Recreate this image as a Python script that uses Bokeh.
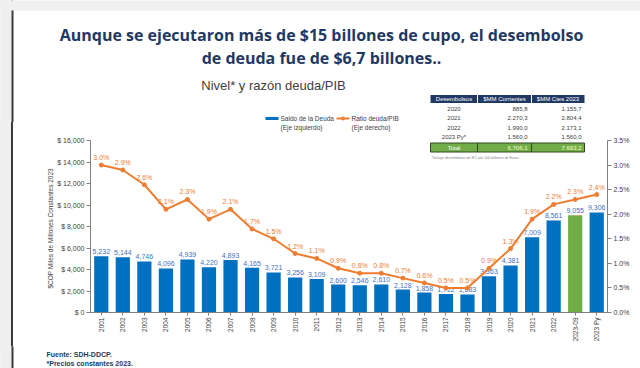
import math
from bokeh.plotting import figure
from bokeh.layouts import column, row
from bokeh.models import (ColumnDataSource, FactorRange, Range1d, LinearAxis,
                          FixedTicker, PrintfTickFormatter, Title, Div)
from bokeh.embed import file_html
from bokeh.resources import INLINE
from bokeh.core.properties import value

# ---------------- data ----------------
years = ["2001", "2002", "2003", "2004", "2005", "2006", "2007", "2008", "2009",
         "2010", "2011", "2012", "2013", "2014", "2015", "2016", "2017", "2018",
         "2019", "2020", "2021", "2022", "2023-09", "2023 Py"]
debt = [5232, 5144, 4746, 4096, 4939, 4220, 4893, 4165, 3721, 3256, 3109, 2600,
        2546, 2610, 2128, 1858, 1722, 1683, 3363, 4381, 7009, 8561, 9055, 9306]
ratio = [3.0, 2.9, 2.6, 2.1, 2.3, 1.9, 2.1, 1.7, 1.5, 1.2, 1.1, 0.9, 0.8, 0.8,
         0.7, 0.6, 0.5, 0.5, 0.9, 1.3, 1.9, 2.2, 2.3, 2.4]
highlight_year = "2023-09"

left_ticks = [0, 2000, 4000, 6000, 8000, 10000, 12000, 14000, 16000]
right_ticks = [0.0, 0.5, 1.0, 1.5, 2.0, 2.5, 3.0, 3.5]

table_header = ["Desembolsos", "$MM Corrientes", "$MM Ctes 2023"]
table_years = ["2020", "2021", "2022", "2023 Py*"]
table_corr = ["885,8", "2.270,3", "1.990,0", "1.560,0"]
table_ctes = ["1.155,7", "2.804,4", "2.173,1", "1.560,0"]
table_total = ["Total", "6.706,1", "7.693,2"]

title1 = "Aunque se ejecutaron más de $15 billones de cupo, el desembolso"
title2 = "de deuda fue de $6,7 billones.."
subtitle = "Nivel* y razón deuda/PIB"
ylabel = "$COP Miles de Millones Constantes 2023"
legend_items = ["Saldo de la Deuda", "(Eje izquierdo)", "Ratio deuda/PIB", "(Eje derecho)"]
footer1 = "Fuente: SDH-DDCP."
footer2 = "*Precios constantes 2023."
table_note = "*Incluye desembolsos de IFC por 100 millones de Euros"

# ---------------- styles / layout ----------------
BLUE = "#0070C0"
GREEN = "#70AD47"
ORANGE = "#ED7D31"
NAVY = "#1F3864"
LBL_BLUE = "#4472C4"
GREY_TXT = "#404040"
AXIS = "#808080"
FONT = "Liberation Sans"
BORDER = "#3a3a3a"
SURROUND = "#efefef"

W, H = 640, 368
SPLIT_Y = 122      # top band / chart band boundary (page px)
FOOT_Y = 346       # chart band / footer band boundary
EDGE_W = 11        # grey surround width, then 2px border line
FL, FR, FB = 90, 607, 312   # main frame edges (page px); top = SPLIT_Y
LEFT_MAX = 16000
RIGHT_MAX = 3.5
PX_AXIS = 172.0


def X(px):
    return (px - FL) / ((FR - FL) / len(years))


def Y(py):
    return (FB - py) * LEFT_MAX / PX_AXIS


def blank(width, height, x0, y0):
    f = figure(width=width, height=height, output_backend="svg", toolbar_location=None,
               x_range=Range1d(x0, x0 + width), y_range=Range1d(y0 + height, y0),
               x_axis_type=None, y_axis_type=None, min_border=0)
    f.outline_line_color = None
    f.grid.visible = False
    f.background_fill_color = "white"
    f.border_fill_color = "white"
    return f


def txt(f, xs, ys, texts, size, color, align="left", baseline="middle",
        font=FONT, style="normal", angle=0.0):
    f.text(x=xs, y=ys, text=texts, text_align=align, text_baseline=baseline,
           text_font=value(font), text_font_size=size, text_font_style=style,
           text_color=color, angle=angle)


def edge(f, y0, y1, top_band=False):
    if top_band:
        f.quad(left=[-5], right=[W + 5], top=[y0 - 5], bottom=[10],
               fill_color=SURROUND, line_color=None)
    f.quad(left=[-5], right=[EDGE_W], top=[y0 - 5], bottom=[y1 + 5],
           fill_color=SURROUND, line_color=None)
    f.segment(x0=[EDGE_W + 1], y0=[10 if top_band else y0 - 5], x1=[EDGE_W + 1],
              y1=[y1 + 5], line_color=BORDER, line_width=2)


# ---------------- top band ----------------
T = blank(W, SPLIT_Y, 0, 0)
edge(T, 0, SPLIT_Y, top_band=True)
txt(T, [321], [34], [title1], "16px", NAVY, "center", "alphabetic", "Open Sans", "bold")
txt(T, [321], [57], [title2], "16px", NAVY, "center", "alphabetic", "Open Sans", "bold")
txt(T, [273], [85], [subtitle], "13px", GREY_TXT, "center", "alphabetic")
# legend, first line
T.segment(x0=[265], y0=[118], x1=[278], y1=[118], line_color=BLUE, line_width=3)
T.segment(x0=[336], y0=[118], x1=[349], y1=[118], line_color=ORANGE, line_width=2)
T.scatter(x=[342.5], y=[118], size=3, fill_color=ORANGE, line_color=ORANGE)
txt(T, [280, 351], [118, 118], [legend_items[0], legend_items[2]], "6.5px", GREY_TXT)
# table header + first rows
cx = [430, 477, 531, 584]
T.quad(left=[cx[0]], right=[cx[3]], top=[94.5], bottom=[102.5], fill_color=NAVY, line_color=None)
T.segment(x0=[cx[1], cx[2]], y0=[94.5, 94.5], x1=[cx[1], cx[2]], y1=[102.5, 102.5],
          line_color="white", line_width=1)
txt(T, [(cx[0] + cx[1]) / 2, (cx[1] + cx[2]) / 2, (cx[2] + cx[3]) / 2], [98.7] * 3,
    table_header, "6px", "white", "center")
row_y = [108, 117.6, 127.2, 136.8]
txt(T, [(cx[0] + cx[1]) / 2] * 2, row_y[:2], table_years[:2], "6px", GREY_TXT, "center")
txt(T, [cx[2] - 4] * 2, row_y[:2], table_corr[:2], "6px", GREY_TXT, "right")
txt(T, [cx[3] - 3] * 2, row_y[:2], table_ctes[:2], "6px", GREY_TXT, "right")

# ---------------- main chart ----------------
CH = FOOT_Y - SPLIT_Y
MX0 = EDGE_W + 2
src = ColumnDataSource(dict(
    year=years, debt=debt, ratio=ratio,
    debt_lbl=[f"{v:,}" for v in debt],
    ratio_lbl=[f"{v:.1f}%" for v in ratio],
    color=[GREEN if y == highlight_year else BLUE for y in years],
))

ymax = (FB - SPLIT_Y) * LEFT_MAX / PX_AXIS
pmax = (FB - SPLIT_Y) * RIGHT_MAX / PX_AXIS

M = figure(width=W - MX0, height=CH, output_backend="svg", toolbar_location=None,
           x_range=FactorRange(factors=years, range_padding=0, factor_padding=0),
           y_range=Range1d(0, ymax),
           min_border_left=FL - MX0, min_border_right=W - FR,
           min_border_top=0, min_border_bottom=FOOT_Y - FB)
M.extra_y_ranges = {"pct": Range1d(0, pmax)}
M.outline_line_color = None
M.xgrid.visible = False
M.ygrid.visible = False
M.background_fill_color = "white"
M.border_fill_color = None

M.vbar(x="year", top="debt", width=0.66, fill_color="color", line_color=None, source=src)
M.text(x="year", y="debt", text="debt_lbl", source=src, text_align="center",
       text_baseline="bottom", y_offset=-2, text_font=value(FONT),
       text_font_size="7px", text_color=LBL_BLUE)

M.line(x="year", y="ratio", y_range_name="pct", source=src, line_color=ORANGE, line_width=2)
M.scatter(x="year", y="ratio", y_range_name="pct", source=src, size=4,
          fill_color=ORANGE, line_color=ORANGE)
M.text(x="year", y="ratio", text="ratio_lbl", y_range_name="pct", source=src,
       text_align="center", text_baseline="bottom", y_offset=-4,
       text_font=value(FONT), text_font_size="7px", text_color=ORANGE)


def style_axis(ax):
    ax.axis_line_color = AXIS
    ax.major_tick_line_color = AXIS
    ax.minor_tick_line_color = None
    ax.major_tick_in = 0
    ax.major_tick_out = 4
    ax.major_label_text_font = FONT
    ax.major_label_text_font_size = "7px"
    ax.major_label_text_color = GREY_TXT
    ax.major_label_standoff = 2


yl = M.yaxis[0]
yl.ticker = FixedTicker(ticks=left_ticks)
yl.bounds = (0, LEFT_MAX)
yl.major_label_overrides = {t: f"$ {t:,}" for t in left_ticks}
style_axis(yl)

yr = LinearAxis(y_range_name="pct", ticker=FixedTicker(ticks=right_ticks),
                bounds=(0, RIGHT_MAX), formatter=PrintfTickFormatter(format="%.1f%%"))
style_axis(yr)
M.add_layout(yr, "right")

xa = M.xaxis[0]
style_axis(xa)
xa.major_tick_out = 3
xa.major_label_orientation = math.pi / 2
xa.major_label_text_font_size = "6.5px"

# vertical axis title, placed in the left panel next to the tick labels
M.add_layout(Title(text=ylabel, align="left", offset=24, standoff=1,
                   text_font=FONT, text_font_size="6.5px", text_font_style="normal",
                   text_color=GREY_TXT), "left")

# legend second line (falls in chart band)
txt(M, [X(280), X(351)], [Y(126.5)] * 2, [legend_items[1], legend_items[3]], "6.5px", GREY_TXT)
# table remaining rows
txt(M, [X((cx[0] + cx[1]) / 2)] * 2, [Y(v) for v in row_y[2:]], table_years[2:],
    "6px", GREY_TXT, "center")
txt(M, [X(cx[2] - 4)] * 2, [Y(v) for v in row_y[2:]], table_corr[2:], "6px", GREY_TXT, "right")
txt(M, [X(cx[3] - 3)] * 2, [Y(v) for v in row_y[2:]], table_ctes[2:], "6px", GREY_TXT, "right")
M.quad(left=[X(cx[0])], right=[X(cx[3])], top=[Y(142.5)], bottom=[Y(151.5)],
       fill_color=GREEN, line_color="#2E4A1E", line_width=1)
M.segment(x0=[X(cx[1]), X(cx[2])], y0=[Y(142.5)] * 2, x1=[X(cx[1]), X(cx[2])],
          y1=[Y(151.5)] * 2, line_color="#2E4A1E", line_width=1)
txt(M, [X((cx[0] + cx[1]) / 2)], [Y(147)], [table_total[0]], "6px", "white", "center")
txt(M, [X(cx[2] - 4), X(cx[3] - 3)], [Y(147)] * 2, table_total[1:], "6px", "#FFFFCC", "right")
txt(M, [X(431)], [Y(157)], [table_note], "3.5px", "#808080")

# left slide edge for the chart band (plain HTML block)
edge_html = (
    f'<div style="display:flex;width:{MX0}px;height:{CH}px;">'
    f'<div style="width:{EDGE_W}px;height:{CH}px;background:{SURROUND};"></div>'
    f'<div style="width:2px;height:{CH}px;background:{BORDER};"></div></div>'
)
edge_div = Div(text=edge_html, width=MX0, height=CH, margin=0,
               styles={"background-color": SURROUND, "border-right": f"2px solid {BORDER}",
                       "box-sizing": "border-box"})

# ---------------- footer ----------------
F = blank(W, H - FOOT_Y, 0, FOOT_Y)
edge(F, FOOT_Y, H)
txt(F, [46, 46], [354, 363], [footer1, footer2], "7px", NAVY, "left", "alphabetic",
    FONT, "bold")

layout = column(T, row(edge_div, M, spacing=0), F, spacing=0,
                styles={"background": f"linear-gradient(to right, {SURROUND} 0px, {SURROUND} {EDGE_W}px, "
                                      f"{BORDER} {EDGE_W}px, {BORDER} {MX0}px, white {MX0}px)"})
open("out.html", "w").write(file_html(layout, INLINE))
